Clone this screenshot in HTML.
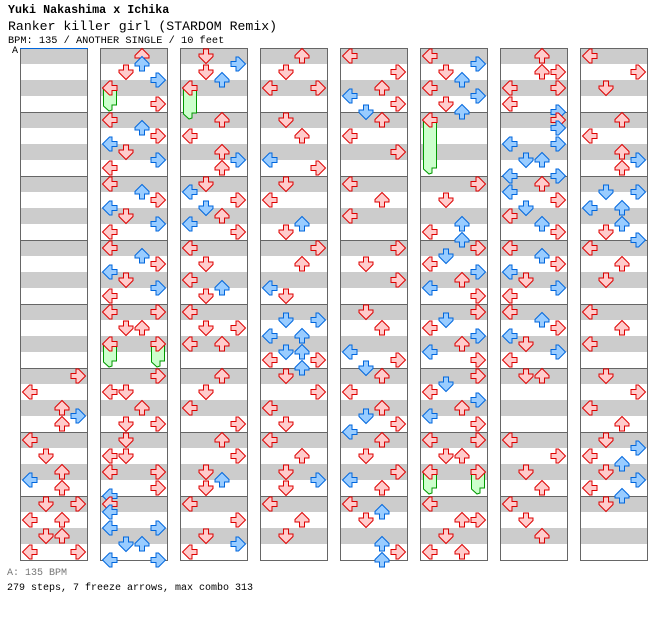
<!DOCTYPE html>
<html><head><meta charset="utf-8">
<style>
body{margin:0;background:#fff;width:672px;height:620px;overflow:hidden;position:relative;font-family:"Liberation Mono",monospace}
.t{position:absolute;left:8px;white-space:nowrap;color:#000}
</style></head><body>
<div class="t" style="top:3px;font-size:11.7px;font-weight:bold">Yuki Nakashima x Ichika</div>
<div class="t" style="top:19px;font-size:13.2px">Ranker killer girl (STARDOM Remix)</div>
<div class="t" style="top:35px;font-size:10.3px">BPM: 135 / ANOTHER SINGLE / 10 feet</div>
<div class="t" style="top:46px;left:12px;font-size:10px">A</div>
<div class="t" style="top:568px;left:7px;font-size:10px;color:#777">A: 135 BPM</div>
<div class="t" style="top:583px;left:7px;font-size:10px">279 steps, 7 freeze arrows, max combo 313</div>
<svg id="s" width="672" height="620" style="position:absolute;left:0;top:0" xmlns="http://www.w3.org/2000/svg"></svg>
<script>
var cols=[
"40R 42L 44U 45R 46U 48L 50D 52U 53L 54U 56D 56R 58L 58U 60D 60U 62L 62R",
"0U 1U 2D 3R 4L 6R 8L 9U 10R 11L 12D 13R 14L 16L 17U 18R 19L 20D 21R 22L 24L 25U 26R 27L 28D 29R 30L 32L 32R 34D 34U 36L 36R 40R 42L 42D 44U 46D 46R 48D 50L 50D 52L 52R 54R 55L 56L 57L 59L 59R 61D 61U 63L 63R",
"0D 1R 2D 3U 4L 8U 10L 12U 13R 14U 16D 17L 18R 19D 20U 21L 22R 24L 26D 28L 29U 30D 32L 34D 34R 36L 36U 40U 42D 44L 46R 48U 50R 52D 53U 54D 56L 58R 60D 61R 62L",
"0U 2D 4L 4R 8D 10U 13L 14R 16D 18L 21U 22D 24R 26U 29L 30D 33D 33R 35L 35U 37D 37U 38L 38R 39U 40D 42R 44L 46D 48L 50U 52D 53R 54D 56L 58U 60D",
"0L 2R 4U 5L 6R 7D 8U 10L 12R 16L 18U 20L 24R 26D 28R 32D 34U 37L 38R 39D 40U 42L 44U 45D 46R 47L 48U 50D 52R 53L 54U 56L 57U 58D 61U 62R 63U",
"0L 1R 2D 3U 4L 5R 6D 7U 8L 16R 18D 21U 22L 23U 24R 25D 26L 27R 28U 29L 30R 32R 33D 34L 35R 36U 37L 38R 40R 41D 42L 43R 44U 45L 46R 48L 48R 50D 50U 52L 52R 56L 58U 58R 60D 62L 62U",
"0U 2U 2R 4L 4R 6L 7R 8R 9R 11L 11R 13D 13U 15L 15R 16U 17L 18R 19D 20L 21U 22R 24L 25U 26R 27L 28D 29R 30L 32L 33U 34R 35L 36D 37R 38L 40D 40U 48L 50R 52D 54U 56L 58D 60U",
"0L 2R 4D 8U 10L 12U 13R 14U 17D 17R 19L 19U 21U 22D 23R 24L 26U 28D 32L 34U 36L 40D 42R 44L 46U 48D 49R 50L 51U 52D 53R 54L 55U 56D"
];
var freezes=[[1,4,0,111],[1,36,0,367],[1,36,3,367],[2,4,0,119],[5,8,0,174],[5,52,0,494],[5,52,3,494]];
var h='';
for(var c=0;c<8;c++){
 var x=20+80*c;
 for(var m=0;m<8;m++){var y=48+64*m;
  h+='<rect x="'+x+'" y="'+y+'" width="68" height="16" fill="#cccccc"/><rect x="'+x+'" y="'+(y+32)+'" width="68" height="16" fill="#cccccc"/>';
  if(m>0)h+='<line x1="'+x+'" y1="'+(y+0.5)+'" x2="'+(x+68)+'" y2="'+(y+0.5)+'" stroke="#666" stroke-width="1"/>';
 }
 h+='<rect x="'+(x+0.5)+'" y="48.5" width="67" height="512" fill="none" stroke="#666" stroke-width="1"/>';
}
h+='<line x1="20" y1="48.5" x2="88" y2="48.5" stroke="#0066dd" stroke-width="1"/>';
var L={L:0,D:1,U:2,R:3},rot={L:90,D:0,U:180,R:270};
freezes.forEach(function(f){
 var x=20+80*f[0]+2+16*f[2],y=48+8*f[1]+8,e=f[3];
 h+='<polygon points="'+(x+1.5)+','+y+' '+(x+14.5)+','+y+' '+(x+14.5)+','+(e-6)+' '+(x+10)+','+(e-6)+' '+(x+10)+','+(e-1)+' '+(x+7)+','+(e)+' '+(x+1.5)+','+(e-5)+'" fill="#ccffcc" stroke="#009900" stroke-width="1"/>';
});
cols.forEach(function(s,c){
 s.split(' ').forEach(function(t){
  var p=parseInt(t),ln=t.slice(-1),x=20+80*c+2+16*L[ln],y=48+8*p;
  var red=p%2==0;
  h+='<g transform="translate('+x+','+y+') rotate('+rot[ln]+',8,8)"><polygon points="5.5,1 10.5,1 10.5,6 15,6 15,8.5 8,15.5 1,8.5 1,6 5.5,6" fill="'+(red?'#ffcccc':'#99ccff')+'" stroke="'+(red?'#dd0000':'#0066dd')+'" stroke-width="1"/></g>';
 });
});
document.getElementById('s').innerHTML=h;
</script>
</body></html>
